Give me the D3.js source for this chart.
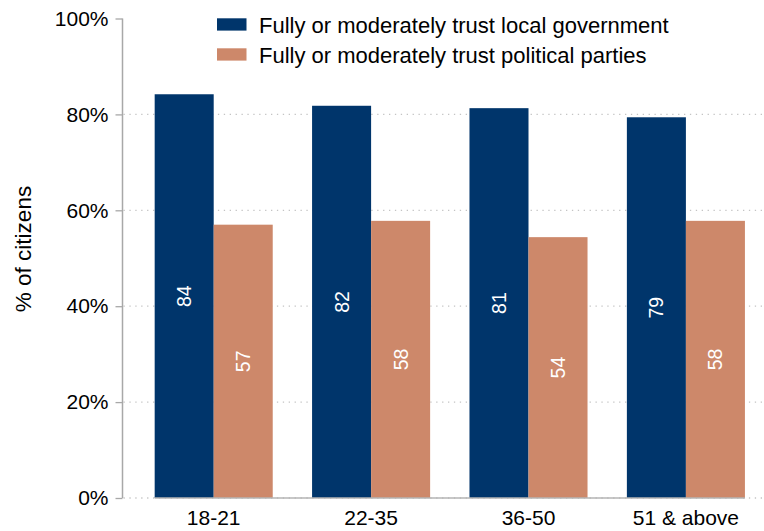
<!DOCTYPE html>
<html>
<head>
<meta charset="utf-8">
<script src="https://cdn.jsdelivr.net/npm/d3@7/dist/d3.min.js"></script>
<style>
  html, body { margin: 0; padding: 0; background: #fff; }
  svg { display: block; font-family: "Liberation Sans", Arial, sans-serif; }
</style>
</head>
<body>
<svg id="chart" width="764" height="531"></svg>
<script>
// Trust in institutions by age group (% of citizens)
const ageGroups = ["18-21", "22-35", "36-50", "51 & above"];
const localGovernment = [84.2, 81.8, 81.3, 79.4];
const politicalParties = [57.0, 57.8, 54.4, 57.8];
const seriesNames = [
  "Fully or moderately trust local government",
  "Fully or moderately trust political parties"
];
const seriesColors = ["#00356b", "#cd886a"];
const yTicks = [0, 20, 40, 60, 80, 100];

const series = [localGovernment, politicalParties];

const svg = d3.select("#chart");
const W = 764, H = 531;
const axisX = 122.5, plotTop = 18.5, plotBottom = 498;

const y = d3.scaleLinear().domain([0, 100]).range([plotBottom, plotTop]);
const x0 = d3.scaleBand().domain(ageGroups).range([135, 764.6])
  .paddingInner(0.25).paddingOuter(0.125);
const x1 = d3.scaleBand().domain(d3.range(series.length)).range([0, x0.bandwidth()]);

// dotted gridlines
svg.append("g").selectAll("line")
  .data(yTicks.filter(t => t < 100))
  .join("line")
  .attr("x1", axisX + 1).attr("x2", W)
  .attr("y1", d => y(d)).attr("y2", d => y(d))
  .attr("stroke", "#c4c4c4").attr("stroke-width", 1.3)
  .attr("stroke-dasharray", "1.3,4.6");

// bars with rotated value labels
const groups = svg.append("g").selectAll("g")
  .data(ageGroups)
  .join("g")
  .attr("transform", d => `translate(${x0(d)},0)`);

groups.each(function (g, gi) {
  const sel = d3.select(this);
  const data = series.map((s, si) => ({ si, v: s[gi] }));
  sel.selectAll("rect")
    .data(data)
    .join("rect")
    .attr("x", d => x1(d.si))
    .attr("width", x1.bandwidth())
    .attr("y", d => y(d.v))
    .attr("height", d => y(0) - y(d.v))
    .attr("fill", d => seriesColors[d.si]);
  sel.selectAll("text")
    .data(data)
    .join("text")
    .attr("transform", d => {
      const cx = x1(d.si) + x1.bandwidth() / 2;
      const cy = (y(d.v) + y(0)) / 2;
      return `translate(${cx},${cy}) rotate(-90)`;
    })
    .attr("text-anchor", "middle")
    .attr("dy", "0.36em")
    .attr("fill", "#ffffff")
    .attr("font-size", 19.5)
    .text(d => d3.format(".0f")(d.v));
});

// baseline under the bars
svg.append("line")
  .attr("x1", x0(ageGroups[0]))
  .attr("x2", x0(ageGroups[ageGroups.length - 1]) + x0.bandwidth())
  .attr("y1", y(0)).attr("y2", y(0))
  .attr("stroke", "#b4b4b4").attr("stroke-width", 1.3);

// y axis
const yAxis = d3.axisLeft(y)
  .tickValues(yTicks)
  .tickFormat(d => d + "%")
  .tickSize(7)
  .tickPadding(7);
const gy = svg.append("g")
  .attr("transform", `translate(${axisX},0)`)
  .call(yAxis);
gy.select(".domain").attr("stroke", "#a8a8a8").attr("stroke-width", 1.5)
  .attr("d", `M0,${plotTop}V${plotBottom}`);
gy.selectAll(".tick line").attr("stroke", "#a8a8a8").attr("stroke-width", 1.3);
gy.selectAll(".tick text")
  .attr("font-size", 21)
  .attr("font-family", "Liberation Sans, Arial, sans-serif")
  .attr("fill", "#000");

// x axis labels
const xAxis = d3.axisBottom(x0).tickSize(0).tickPadding(12);
const gx = svg.append("g")
  .attr("transform", `translate(0,${plotBottom})`)
  .call(xAxis);
gx.select(".domain").remove();
gx.selectAll(".tick text")
  .attr("font-size", 21)
  .attr("font-family", "Liberation Sans, Arial, sans-serif")
  .attr("fill", "#000");

// y axis title
svg.append("text")
  .attr("transform", `translate(31,249) rotate(-90)`)
  .attr("text-anchor", "middle")
  .attr("font-size", 22.5)
  .attr("fill", "#000")
  .text("% of citizens");

// legend
const legend = svg.append("g").selectAll("g")
  .data(seriesNames)
  .join("g")
  .attr("transform", (d, i) => `translate(217,${18.3 + i * 30})`);
legend.append("rect")
  .attr("width", 29.5).attr("height", 12.3)
  .attr("fill", (d, i) => seriesColors[i]);
legend.append("text")
  .attr("x", 42).attr("y", 15)
  .attr("font-size", 22)
  .attr("fill", "#000")
  .text(d => d);
</script>
</body>
</html>
